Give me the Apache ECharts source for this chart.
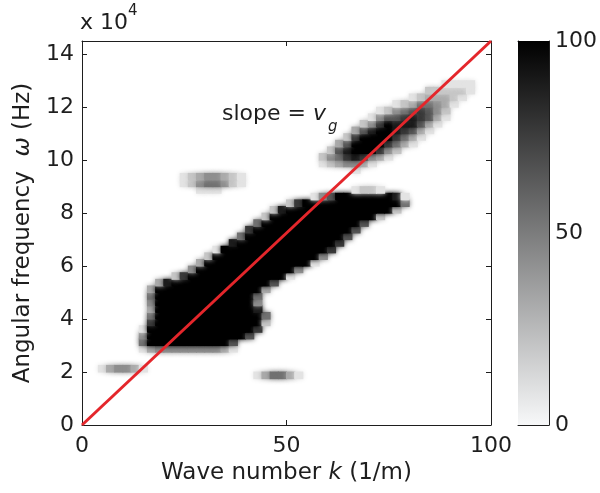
<!DOCTYPE html>
<html>
<head>
<meta charset="utf-8">
<script src="https://cdn.jsdelivr.net/npm/echarts@6/dist/echarts.min.js"></script>
<style>html,body{margin:0;padding:0;background:#fff}#c{width:600px;height:493px}</style>
</head>
<body>
<div id="c"></div>
<script>
// ---- axis ranges and tick labels ----
const kRange = [0, 100];          // wave number k (1/m)
const wRange = [0, 14.5];         // angular frequency, units of 1e4 Hz
const kTicks = [0, 50, 100];
const wTicks = [0, 2, 4, 6, 8, 10, 12, 14];
const cbRange = [0, 100];
const cbTicks = [0, 50, 100];

// ---- spectrum cells: grid of k step 2, omega step 0.25e4 ----
const kStep = 2;
const wStep = 0.25;
// each entry: [row index (omega = row*wStep), first column (k = col*kStep), digits 0..9 -> 0..100]
const mainBlobRows = [
  [11, 7, "134444444431"],
  [12, 7, "599999999996"],
  [13, 7, "49999999999996"],
  [14, 7, "199999999999997"],
  [15, 8, "799999999999992"],
  [16, 8, "599999999999995"],
  [17, 8, "39999999999998"],
  [18, 8, "49999999999994"],
  [19, 8, "59999999999995"],
  [20, 8, "399999999999993"],
  [21, 9, "389999999999996"],
  [22, 11, "279999999999991"],
  [23, 13, "49999999999994"],
  [24, 14, "399999999999991"],
  [25, 15, "299999999999994"],
  [26, 16, "199999999999997"],
  [27, 18, "89999999999997"],
  [28, 19, "59999999999996"],
  [29, 20, "79999999999996"],
  [30, 21, "59999999999996"],
  [31, 22, "299999999999992"],
  [32, 23, "2899999999999992"],
  [33, 25, "279999999999995"],
  [34, 28, "146999999981"],
  [35, 33, "1221"]
];
const upperBlobRows = [
  [38, 33, "1"],
  [39, 29, "1234431"],
  [40, 29, "245787431"],
  [41, 30, "268999742"],
  [42, 31, "3699997531"],
  [43, 32, "2799997531"],
  [44, 33, "3689987631"],
  [45, 34, "2479888631"],
  [46, 35, "1466787631"],
  [47, 36, "124567642"],
  [48, 38, "12355431"],
  [49, 40, "1233321"],
  [50, 42, "222221"],
  [51, 44, "1111"]
];
const smudgeRows = [
  [7, 21, "135531"],
  [8, 2, "134431"],
  [35, 14, "111"],
  [36, 12, "12455421"],
  [37, 12, "12344321"]
];

// ---- red reference line (slope = v_g) ----
const lineK = [0, 100];
const lineW = [0, 14.5];

// ---- colorbar ----
const cbBar = [100];

function toCells(rows) {
  const out = [];
  rows.forEach(function (row) {
    const r = row[0], c0 = row[1], s = row[2];
    for (let i = 0; i < s.length; i++) {
      const d = Number(s[i]);
      if (d > 0) out.push([(c0 + i) * kStep, r * wStep, d / 9 * 100]);
    }
  });
  return out;
}
const cells = toCells(mainBlobRows).concat(toCells(upperBlobRows), toCells(smudgeRows));

const FONT = '"DejaVu Sans", "Liberation Sans", Arial, sans-serif';
const TXT = '#1e1e1e';
const AX = '#1e1e1e';
const FS = 22;
const FT = 23;

const chart = echarts.init(document.getElementById('c'), null, {renderer: 'canvas'});

const lineCommon = {show: true, onZero: false, lineStyle: {color: AX, width: 1}};
const tickIn = {show: true, inside: true, length: 5, lineStyle: {color: AX, width: 1}};

chart.setOption({
  animation: false,
  backgroundColor: '#ffffff',
  textStyle: {fontFamily: FONT},
  grid: [
    {left: 82, top: 41, width: 409, height: 384, containLabel: false},
    {left: 518, top: 41, width: 34, height: 384, containLabel: false}
  ],
  visualMap: [{
    type: 'continuous', show: false, seriesIndex: 0, dimension: 2,
    min: cbRange[0], max: cbRange[1],
    inRange: {color: ['#ffffff', '#000000']}
  }],
  xAxis: [
    {
      type: 'value', gridIndex: 0, min: kRange[0], max: kRange[1], interval: kTicks[1] - kTicks[0],
      position: 'bottom',
      axisLine: lineCommon, axisTick: tickIn, splitLine: {show: false},
      axisLabel: {show: true, margin: 10, color: TXT, fontSize: FS, fontFamily: FONT,
        formatter: function (v) { return kTicks.indexOf(v) >= 0 ? String(v) : ''; }},
      name: 'Wave number {i|k} (1/m)', nameLocation: 'middle', nameGap: 29,
      nameTextStyle: {color: TXT, fontSize: FT, fontFamily: FONT,
        rich: {i: {fontStyle: 'italic', color: TXT, fontSize: FT, fontFamily: FONT}}}
    },
    {
      type: 'value', gridIndex: 0, min: kRange[0], max: kRange[1], interval: kTicks[1] - kTicks[0],
      position: 'top',
      axisLine: lineCommon, axisTick: tickIn, axisLabel: {show: false}, splitLine: {show: false}
    },
    {
      type: 'category', gridIndex: 1, data: ['cb'], position: 'bottom',
      axisLine: lineCommon, axisTick: {show: false}, axisLabel: {show: false}
    },
    {
      type: 'category', gridIndex: 1, data: ['cb'], position: 'top',
      axisLine: lineCommon, axisTick: {show: false}, axisLabel: {show: false}
    }
  ],
  yAxis: [
    {
      type: 'value', gridIndex: 0, min: wRange[0], max: wRange[1], interval: wTicks[1] - wTicks[0],
      position: 'left',
      axisLine: lineCommon, axisTick: tickIn, splitLine: {show: false},
      axisLabel: {show: true, margin: 8, color: TXT, fontSize: FS, fontFamily: FONT, showMaxLabel: false,
        formatter: function (v) { return wTicks.indexOf(v) >= 0 ? String(v) : ''; }},
      name: 'Angular frequency  {i|ω} (Hz)', nameLocation: 'middle', nameGap: 47,
      nameTextStyle: {color: TXT, fontSize: FT, fontFamily: FONT,
        rich: {i: {fontStyle: 'italic', color: TXT, fontSize: FT, fontFamily: FONT}}}
    },
    {
      type: 'value', gridIndex: 0, min: wRange[0], max: wRange[1], interval: wTicks[1] - wTicks[0],
      position: 'right',
      axisLine: lineCommon, axisTick: tickIn, axisLabel: {show: false}, splitLine: {show: false}
    },
    {
      type: 'value', gridIndex: 1, min: cbRange[0], max: cbRange[1], interval: cbTicks[1] - cbTicks[0],
      position: 'left',
      axisLine: lineCommon, axisTick: tickIn, axisLabel: {show: false}, splitLine: {show: false}
    },
    {
      type: 'value', gridIndex: 1, min: cbRange[0], max: cbRange[1], interval: cbTicks[1] - cbTicks[0],
      position: 'right',
      axisLine: lineCommon, axisTick: tickIn, splitLine: {show: false},
      axisLabel: {show: true, margin: 6, color: TXT, fontSize: FS, fontFamily: FONT,
        formatter: function (v) { return cbTicks.indexOf(v) >= 0 ? String(v) : ''; }}
    }
  ],
  series: [
    {
      type: 'custom', xAxisIndex: 0, yAxisIndex: 0, data: cells, encode: {x: 0, y: 1},
      silent: true, clip: true, z: 1,
      renderItem: function (params, api) {
        const k0 = api.value(0), w0 = api.value(1);
        const a = api.coord([k0, w0]);
        const b = api.coord([k0 + kStep, w0 + wStep]);
        const col = api.visual('color');
        return {
          type: 'rect',
          shape: {x: a[0] - 0.5, y: b[1] - 0.5, width: b[0] - a[0] + 1, height: a[1] - b[1] + 1},
          style: {fill: col, shadowBlur: 5, shadowColor: col}
        };
      }
    },
    {
      type: 'line', xAxisIndex: 0, yAxisIndex: 0,
      data: lineK.map(function (k, i) { return [k, lineW[i]]; }),
      symbol: 'none', silent: true, z: 5, clip: true,
      lineStyle: {color: '#e4262b', width: 3}
    },
    {
      type: 'bar', xAxisIndex: 2, yAxisIndex: 2, data: cbBar, barWidth: '100%', silent: true, z: 1,
      itemStyle: {
        color: new echarts.graphic.LinearGradient(0, 0, 0, 1, [
          {offset: 0, color: '#000000'},
          {offset: 1, color: '#f7f8f9'}
        ])
      }
    }
  ],
  graphic: [
    {type: 'text', left: 80, top: 12, z: 10, style: {text: 'x 10', fill: TXT, fontSize: FS, fontFamily: FONT}},
    {type: 'text', left: 128, top: 4, z: 10, style: {text: '4', fill: TXT, fontSize: 15, fontFamily: FONT}},
    {type: 'text', left: 222, top: 103, z: 10, style: {
      text: '{a|slope = }{v|v}', fill: TXT, fontFamily: FONT,
      rich: {a: {fontSize: FS, fontFamily: FONT, fill: TXT}, v: {fontSize: FS, fontStyle: 'italic', fontFamily: FONT, fill: TXT}}
    }},
    {type: 'text', left: 328, top: 120, z: 10, style: {text: 'g', fill: TXT, fontSize: 15, fontStyle: 'italic', fontFamily: FONT}}
  ]
});
</script>
</body>
</html>
